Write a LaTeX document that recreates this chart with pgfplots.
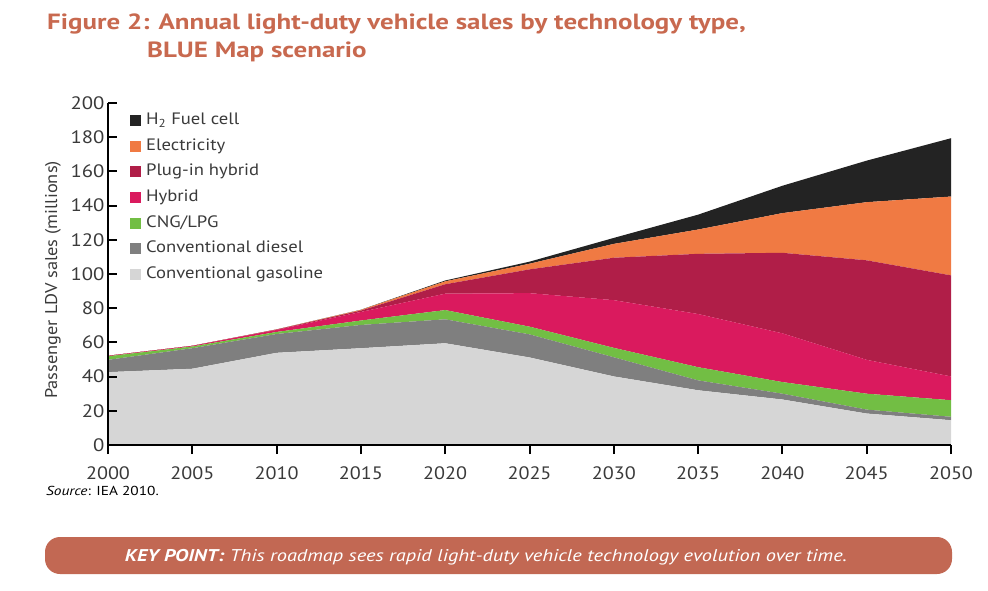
\documentclass[border=0pt]{standalone}
\usepackage{fontspec}
\setmainfont{PT Sans}
\usepackage{pgfplots}
\usepackage{pgfplotstable}
\pgfplotsset{compat=1.18}
\definecolor{gascol}{HTML}{D6D6D6}
\definecolor{diecol}{HTML}{7F7F7F}
\definecolor{cngcol}{HTML}{72BE44}
\definecolor{hybcol}{HTML}{DA1A5E}
\definecolor{plugcol}{HTML}{B01E48}
\definecolor{eleccol}{HTML}{F07A43}
\definecolor{fccol}{HTML}{232323}
\definecolor{titlecol}{HTML}{C8694F}
\definecolor{keycol}{HTML}{C26853}
\definecolor{txtcol}{HTML}{3A3A3A}
\newcommand{\legtxt}[1]{\scalebox{1.13}[1]{#1}}
\pgfplotstableread{
year gas diesel cng hybrid plugin elec fc
2000 42.6 7.2 2.1 0.3 0 0 0
2005 44.6 12.0 1.0 0.4 0 0 0
2010 53.9 11.0 1.2 1.2 0.2 0.1 0
2015 56.6 13.6 2.6 5.0 0.8 0.4 0.1
2020 59.5 14.0 5.4 9.6 5.5 1.7 0.5
2025 51.2 13.5 4.5 19.6 13.9 3.3 1.2
2030 40.1 11.2 5.5 27.9 24.8 8.1 3.5
2035 32.0 5.8 7.7 31.1 35.2 14.2 8.7
2040 26.6 3.4 6.8 28.5 47.1 23.2 16.0
2045 18.4 2.3 9.3 19.8 58.2 34.0 24.3
2050 14.5 2.0 9.7 13.9 59.1 46.1 34.1
}\data
\begin{document}
\begin{tikzpicture}[x=1pt,y=1pt]
\path[use as bounding box] (0,0) rectangle (988,590);
\begin{axis}[
  at={(108pt,145pt)}, anchor=origin,
  scale only axis, width=843pt, height=342pt,
  xmin=2000, xmax=2050, ymin=0, ymax=200,
  axis x line=bottom, axis y line=left,
  axis line style={-, line width=2pt, black},
  xtick={2000,2005,...,2050}, ytick={0,20,...,200},
  xtick align=outside, ytick align=inside,
  major tick length=9pt,
  tick style={line width=2pt, black},
  /pgf/number format/assume math mode=true,
  xticklabel={\scalebox{1.12}[1]{\pgfmathprintnumber[1000 sep={}]{\tick}}},
  yticklabel={\scalebox{1.15}[1]{\pgfmathprintnumber{\tick}}},
  xticklabel style={yshift=-9pt},
  ticklabel style={font=\fontsize{18}{20}\selectfont, text=txtcol},
  stack plots=y,
  area style,
  reverse legend,
  legend cell align=left,
  legend image code/.code={\fill[#1] (0pt,-5.5pt) rectangle (11pt,5.5pt);},
  legend style={draw=none, fill=none, at={(0.026,0.972)}, anchor=north west,
    inner sep=0pt, font=\fontsize{16.5}{19}\selectfont, text=txtcol,
    row sep=9.6pt, nodes={inner sep=0pt, text height=12pt, text depth=4pt},
    /tikz/every odd column/.append style={column sep=5pt}},
  clip=false,
]
\addplot[fill=gascol, draw=none] table[x=year, y=gas] {\data} \closedcycle;
\addplot[fill=diecol, draw=none] table[x=year, y=diesel] {\data} \closedcycle;
\addplot[fill=cngcol, draw=none] table[x=year, y=cng] {\data} \closedcycle;
\addplot[fill=hybcol, draw=none] table[x=year, y=hybrid] {\data} \closedcycle;
\addplot[fill=plugcol, draw=none] table[x=year, y=plugin] {\data} \closedcycle;
\addplot[fill=eleccol, draw=none] table[x=year, y=elec] {\data} \closedcycle;
\addplot[fill=fccol, draw=none] table[x=year, y=fc] {\data} \closedcycle;
\legend{\legtxt{Conventional gasoline}, \legtxt{Conventional diesel}, \legtxt{CNG/LPG}, \legtxt{Hybrid}, \legtxt{Plug-in hybrid}, \legtxt{Electricity}, \legtxt{H\textsubscript{2} Fuel cell}}
\end{axis}
\node[rotate=90, text=txtcol, font=\fontsize{17}{20}\selectfont] at (53,310) {\scalebox{1.08}[1]{Passenger LDV sales (millions)}};
\node[anchor=base west, inner sep=0pt, text=titlecol, font=\bfseries\fontsize{22}{26}\selectfont] at (47,560.7) {\scalebox{1.225}[1]{Figure 2: Annual light-duty vehicle sales by technology type,}};
\node[anchor=base west, inner sep=0pt, text=titlecol, font=\bfseries\fontsize{22}{26}\selectfont] at (147,532.7) {\scalebox{1.225}[1]{BLUE Map scenario}};
\node[anchor=base west, inner sep=0pt, font=\fontsize{13}{15}\selectfont] at (46,94.5) {\scalebox{1.18}[1]{\textit{Source}: IEA 2010.}};
\fill[keycol, rounded corners=15pt] (45,16) rectangle (952,53);
\node[anchor=base, inner sep=0pt, text=white, font=\itshape\fontsize{17}{20}\selectfont] at (486,28.3) {\scalebox{1.2}[1]{\textbf{KEY POINT:} This roadmap sees rapid light-duty vehicle technology evolution over time.}};
\end{tikzpicture}
\end{document}
